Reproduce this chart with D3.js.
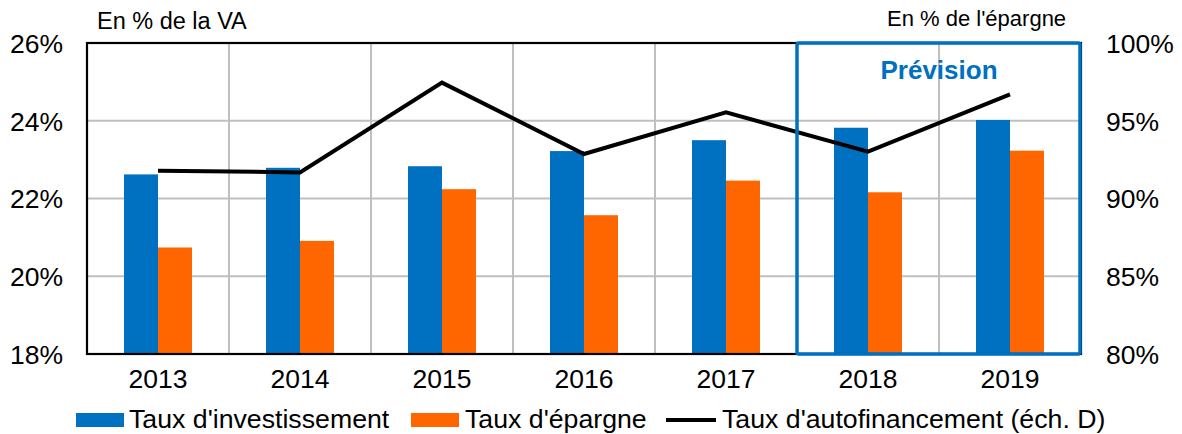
<!DOCTYPE html>
<html>
<head>
<meta charset="utf-8">
<script src="https://cdn.jsdelivr.net/npm/d3@7"></script>
<style>
  body { margin: 0; background: #fff; }
  svg { display: block; }
  text { font-family: "Liberation Sans", Arial, sans-serif; fill: #000; }
</style>
</head>
<body>
<svg id="chart" width="1182" height="434"></svg>
<script>
const years = ["2013", "2014", "2015", "2016", "2017", "2018", "2019"];
const tauxInvestissement = [22.62, 22.79, 22.83, 23.22, 23.50, 23.82, 24.02];
const tauxEpargne = [20.74, 20.91, 22.24, 21.57, 22.46, 22.16, 23.23];
const tauxAutofinancement = [91.79, 91.68, 97.45, 92.86, 95.54, 93.01, 96.70];
const leftTicks = [18, 20, 22, 24, 26];
const rightTicks = [80, 85, 90, 95, 100];
const forecastYears = ["2018", "2019"];
const seriesNames = ["Taux d'investissement", "Taux d'épargne", "Taux d'autofinancement (éch. D)"];

const colors = { inv: "#0070C0", ep: "#FF6600", line: "#000000", grid: "#BFBFBF", box: "#0070C0" };

const svg = d3.select("#chart");
const L = 87, R = 1081, T = 43, B = 354;

const x = d3.scaleBand().domain(years).range([L, R]).padding(0);
const bw = x.bandwidth();
const groupW = 68;
const x1 = d3.scaleBand().domain(["inv", "ep"]).range([0, groupW]).padding(0);
const yL = d3.scaleLinear().domain([18, 26]).range([B, T]);
const yR = d3.scaleLinear().domain([80, 100]).range([B, T]);

// gridlines
const grid = svg.append("g");
grid.selectAll("line.h").data(leftTicks.slice(1, -1)).enter().append("line")
  .attr("x1", L).attr("x2", R).attr("y1", d => yL(d)).attr("y2", d => yL(d))
  .attr("stroke", colors.grid).attr("stroke-width", 2);
grid.selectAll("line.v").data(years.slice(1)).enter().append("line")
  .attr("x1", d => x(d)).attr("x2", d => x(d)).attr("y1", T).attr("y2", B)
  .attr("stroke", colors.grid).attr("stroke-width", 2);

// bars
const bars = svg.append("g");
const off = (bw - groupW) / 2;
bars.selectAll("rect.inv").data(years).enter().append("rect")
  .attr("x", d => x(d) + off + x1("inv"))
  .attr("width", x1.bandwidth())
  .attr("y", (d, i) => yL(tauxInvestissement[i]))
  .attr("height", (d, i) => B - yL(tauxInvestissement[i]))
  .attr("fill", colors.inv);
bars.selectAll("rect.ep").data(years).enter().append("rect")
  .attr("x", d => x(d) + off + x1("ep"))
  .attr("width", x1.bandwidth())
  .attr("y", (d, i) => yL(tauxEpargne[i]))
  .attr("height", (d, i) => B - yL(tauxEpargne[i]))
  .attr("fill", colors.ep);

// frame
svg.append("rect").attr("x", L).attr("y", T).attr("width", R - L).attr("height", B - T)
  .attr("fill", "none").attr("stroke", "#000").attr("stroke-width", 2.2);

// line
const line = d3.line().x((d, i) => x(years[i]) + bw / 2).y(d => yR(d));
svg.append("path").datum(tauxAutofinancement)
  .attr("d", line).attr("fill", "none").attr("stroke", colors.line)
  .attr("stroke-width", 4).attr("stroke-linejoin", "miter");

// forecast box
const bx0 = x(forecastYears[0]);
const bx1 = x(forecastYears[forecastYears.length - 1]) + bw;
svg.append("rect").attr("x", bx0).attr("y", T).attr("width", bx1 - bx0 - 1).attr("height", B - T)
  .attr("rx", 2).attr("fill", "none").attr("stroke", colors.box).attr("stroke-width", 3.5);
svg.append("text").attr("x", (bx0 + bx1) / 2).attr("y", 79)
  .attr("text-anchor", "middle").style("font-weight", "bold").style("font-size", "26px")
  .style("fill", colors.box).text("Prévision");

// axes
const axL = d3.axisLeft(yL).tickValues(leftTicks).tickSize(0).tickPadding(0).tickFormat(d => d + "%");
const gL = svg.append("g").attr("transform", `translate(63,0)`).call(axL);
gL.select(".domain").remove();
gL.selectAll("text").style("font-size", "26.5px").style("font-family", "Liberation Sans, Arial, sans-serif").attr("dy", "0.35em");

const axR = d3.axisRight(yR).tickValues(rightTicks).tickSize(0).tickPadding(0).tickFormat(d => d + "%");
const gR = svg.append("g").attr("transform", `translate(1106,0)`).call(axR);
gR.select(".domain").remove();
gR.selectAll("text").style("font-size", "26.5px").style("font-family", "Liberation Sans, Arial, sans-serif").attr("dy", "0.35em");

const axB = d3.axisBottom(x).tickSize(0).tickPadding(0);
const gB = svg.append("g").attr("transform", `translate(0,${B})`).call(axB);
gB.select(".domain").remove();
gB.selectAll("text").style("font-size", "26.5px").style("font-family", "Liberation Sans, Arial, sans-serif").attr("dy", "0").attr("y", 34);

// headings
svg.append("text").attr("x", 97).attr("y", 29).style("font-size", "23.5px").text("En % de la VA");
svg.append("text").attr("x", 887).attr("y", 26).style("font-size", "22px").text("En % de l'épargne");

// legend
const lg = svg.append("g");
lg.append("rect").attr("x", 76).attr("y", 413).attr("width", 48).attr("height", 14).attr("fill", colors.inv);
lg.append("text").attr("x", 129).attr("y", 428).style("font-size", "26.7px").text(seriesNames[0]);
lg.append("rect").attr("x", 411).attr("y", 413).attr("width", 48).attr("height", 14).attr("fill", colors.ep);
lg.append("text").attr("x", 465).attr("y", 428).style("font-size", "26.7px").text(seriesNames[1]);
lg.append("line").attr("x1", 666).attr("x2", 716).attr("y1", 420).attr("y2", 420)
  .attr("stroke", colors.line).attr("stroke-width", 4);
lg.append("text").attr("x", 722).attr("y", 428).style("font-size", "26.7px").text(seriesNames[2]);
</script>
</body>
</html>
